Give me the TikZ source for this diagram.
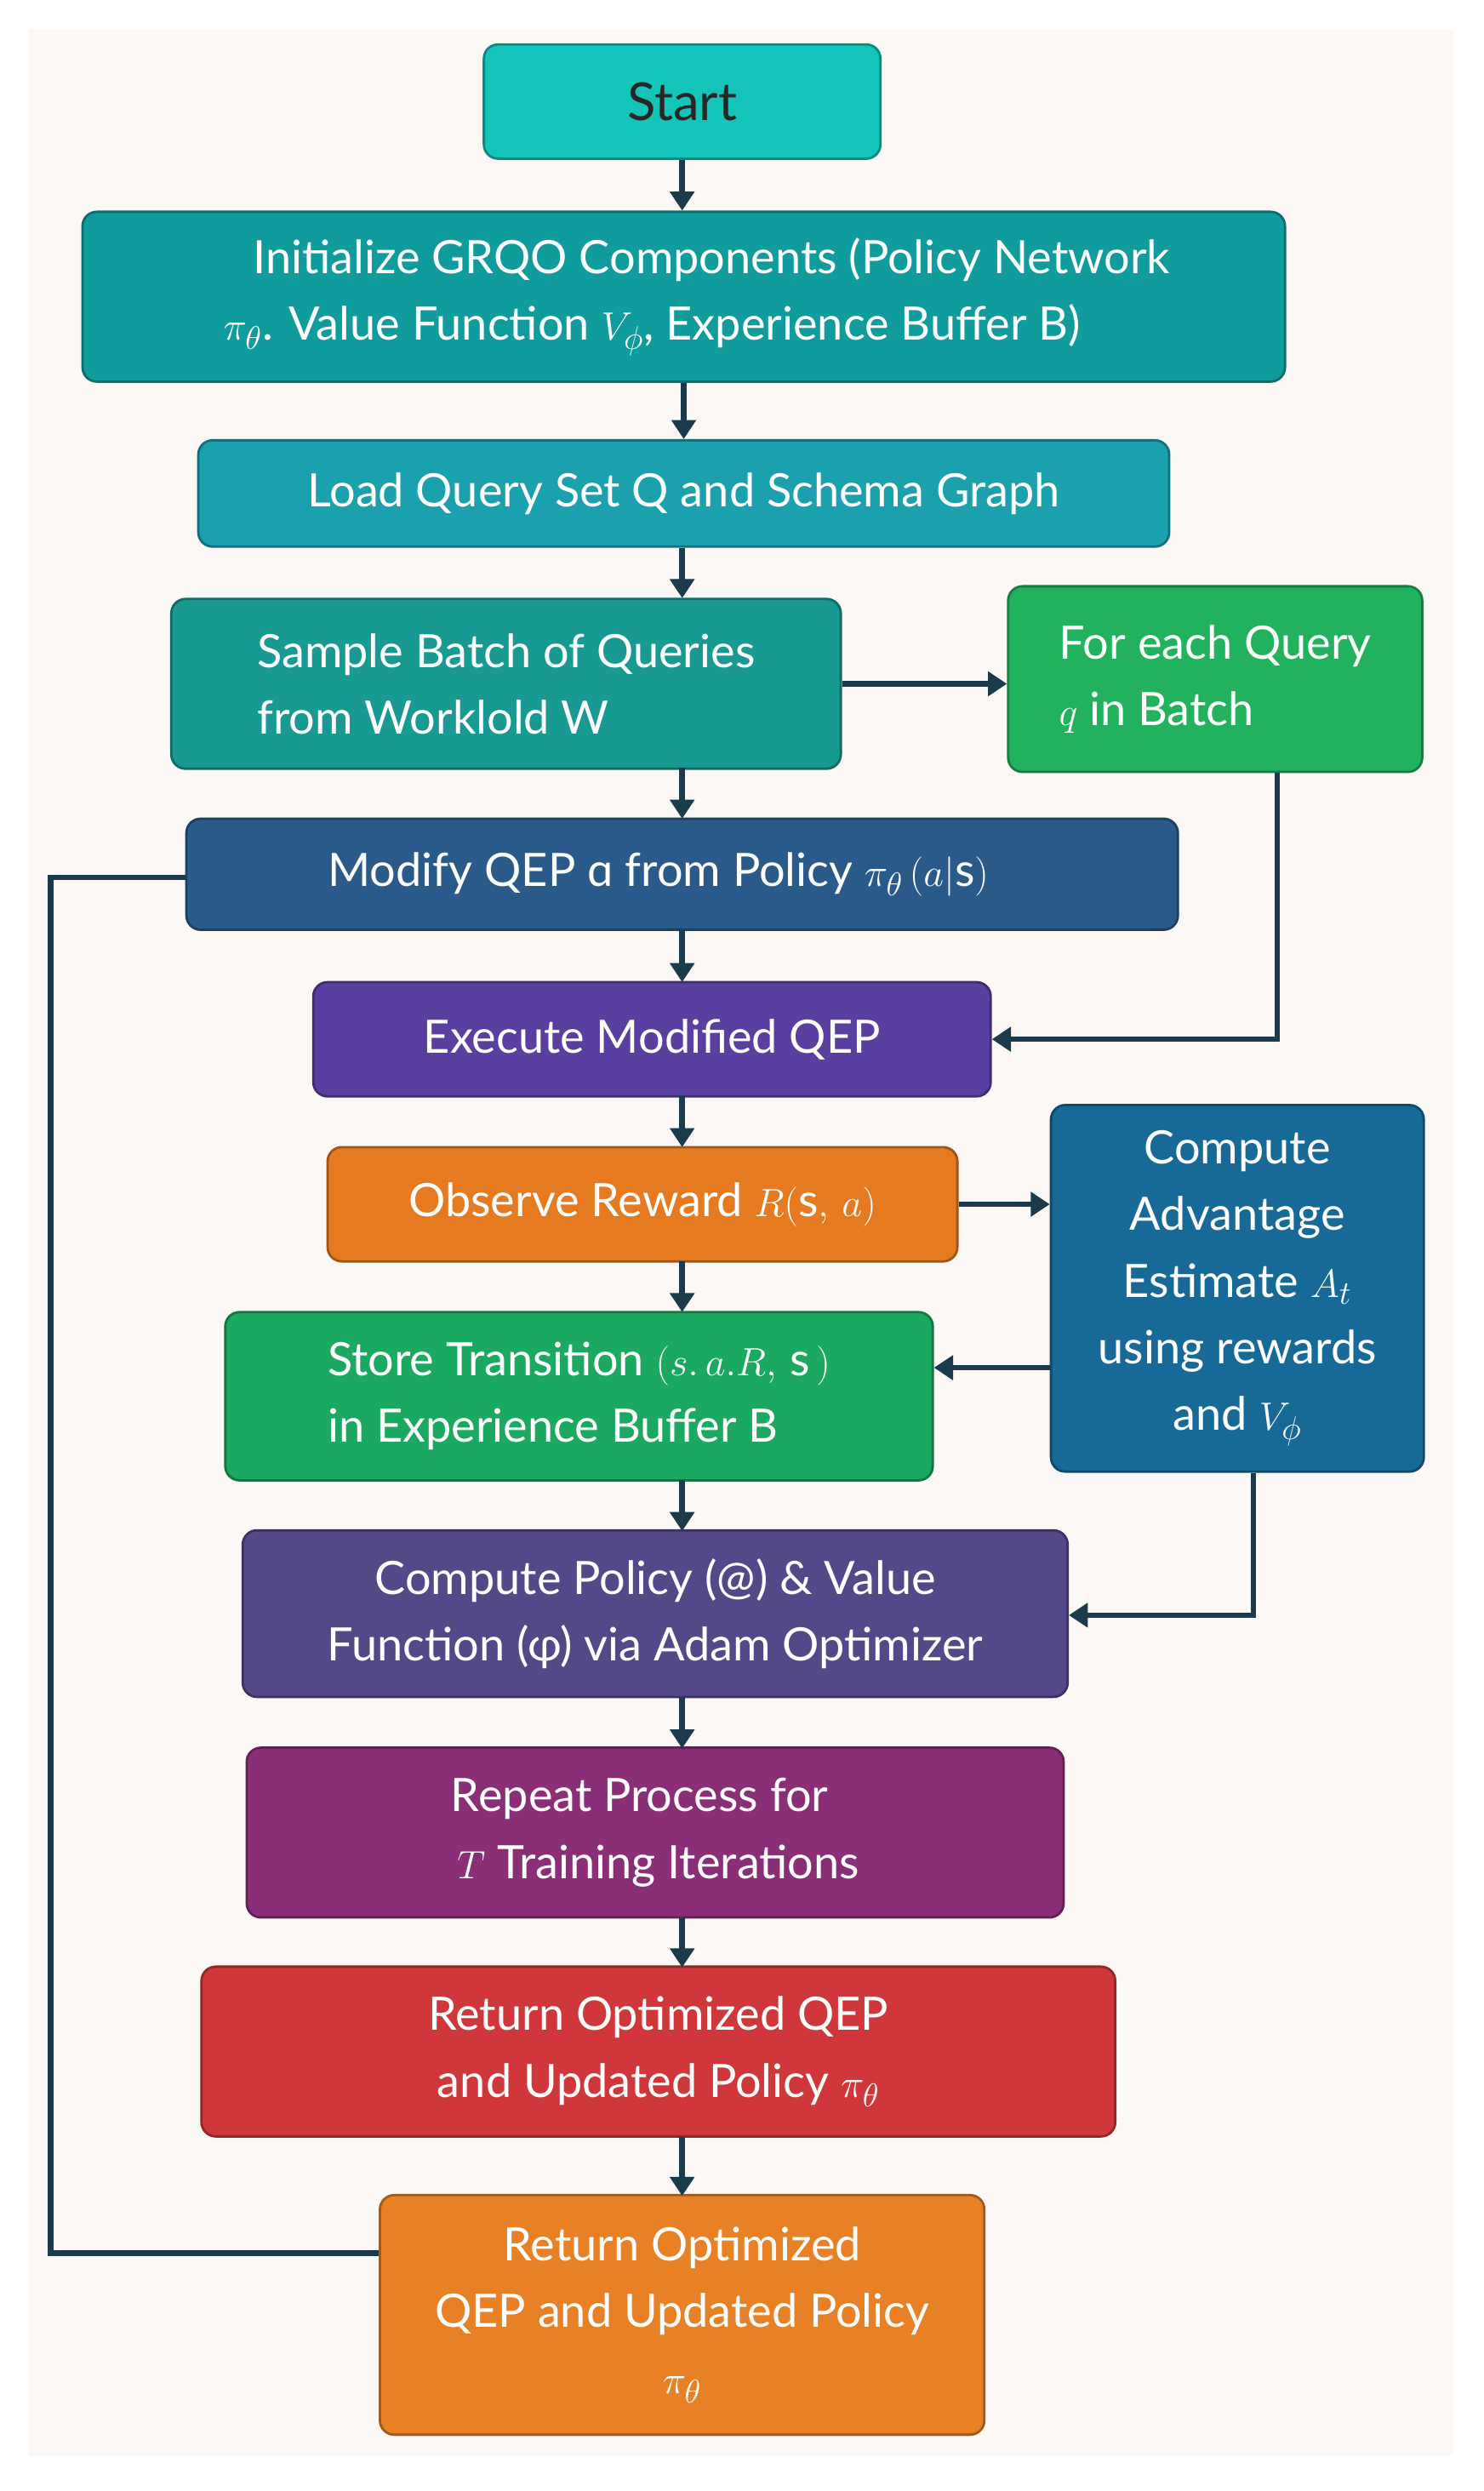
\documentclass[tikz,border=0pt]{standalone}
\usepackage{fontspec}
\setmainfont{Lato}
\usepackage{amsmath}
\usetikzlibrary{arrows.meta}
\definecolor{cStart}{HTML}{14C4B8}
\definecolor{cInit}{HTML}{109C9C}
\definecolor{cLoad}{HTML}{1BA0AE}
\definecolor{cSample}{HTML}{189A92}
\definecolor{cEach}{HTML}{22B25E}
\definecolor{cModify}{HTML}{2A5A8A}
\definecolor{cExec}{HTML}{5B3FA0}
\definecolor{cObs}{HTML}{E57A20}
\definecolor{cAdv}{HTML}{176A98}
\definecolor{cStore}{HTML}{1BA860}
\definecolor{cPol}{HTML}{544888}
\definecolor{cRep}{HTML}{8A2E78}
\definecolor{cRetA}{HTML}{D0373A}
\definecolor{cRetB}{HTML}{E88025}
\definecolor{cArrow}{HTML}{1B3A4B}
\definecolor{cBack}{HTML}{FBF8F5}
\tikzset{
  blk/.style={rounded corners=9pt, draw=#1!70!black, line width=1.5pt, fill=#1,
    text=white, align=center, inner sep=4pt, font=\fontsize{29}{42}\selectfont},
  flow/.style={draw=cArrow, line width=3.5pt, -{Triangle[length=12pt,width=15pt]}},
  flowline/.style={draw=cArrow, line width=3.5pt}
}
\begin{document}
\begin{tikzpicture}[x=1pt,y=1pt,yscale=-1,xscale=1]
\useasboundingbox (0,0) rectangle (935,1570);
%Shape: background
\fill[cBack] (18,18) rectangle (916,1548);

% Nodes
\node[blk=cStart, text=black!85, minimum width=250pt, minimum height=72pt, font=\fontsize{33}{40}\selectfont] (start) at (430,64) {Start};
\node[blk=cInit, minimum width=758pt, minimum height=107pt] (init) at (431,187) {\hspace*{35pt}Initialize GRQO Components (Policy Network\\ $\pi_\theta$. Value Function $V_{\phi}$, Experience Buffer B)\hspace*{40pt}};
\node[blk=cLoad, minimum width=612pt, minimum height=67pt] (load) at (431,311) {Load Query Set Q and Schema Graph};
\node[blk=cSample, minimum width=422pt, minimum height=107pt, align=left] (sample) at (319,431) {Sample Batch of Queries\\from Worklold W\hspace*{70pt}};
\node[blk=cEach, minimum width=261pt, minimum height=117pt, align=left] (each) at (766,428) {For each Query\\$q$ in Batch};
\node[blk=cModify, minimum width=625pt, minimum height=70pt] (modify) at (430,551) {Modify QEP ɑ from Policy $\pi_\theta\,(a|\mathrm{s})$\hspace*{30pt}};
\node[blk=cExec, minimum width=427pt, minimum height=72pt] (exec) at (411,655) {Execute Modified QEP};
\node[blk=cObs, minimum width=397pt, minimum height=72pt] (obs) at (405,759) {Observe Reward $R(\mathrm{s},\,a)$};
\node[blk=cAdv, minimum width=235pt, minimum height=231pt] (adv) at (780,812) {Compute\\Advantage\\Estimate $A_t$\\using rewards\\and $V_{\phi}$};
\node[blk=cStore, minimum width=446pt, minimum height=106pt, align=left] (store) at (365,880) {Store Transition $(s.\,a.R,\,\mathrm{s}\,)$\\in Experience Buffer B};
\node[blk=cPol, minimum width=520pt, minimum height=105pt] (pol) at (413,1017) {Compute Policy (@) \& Value\\Function (φ) via Adam Optimizer};
\node[blk=cRep, minimum width=515pt, minimum height=107pt, align=left] (rep) at (413,1155) {Repeat Process for\\\hspace*{4pt}$T$ Training Iterations};
\node[blk=cRetA, minimum width=576pt, minimum height=107pt] (retA) at (415,1293) {Return Optimized QEP\\and Updated Policy $\pi_\theta$};
\node[blk=cRetB, minimum width=381pt, minimum height=151pt] (retB) at (430,1459) {Return Optimized\\QEP and Updated Policy\\$\pi_\theta$};

% Helper coordinates
\coordinate (eachc) at (805,655);
\coordinate (advc) at (790,1018);
\coordinate (loopA) at (32,553);
\coordinate (loopB) at (32,1420);

% Connectors
\draw[flow] (start) -- (start |- init.north);
\draw[flow] (init.south -| load) -- (load);
\draw[flow] (load.south -| 430,0) -- (430,377);
\draw[flow] (430,484) -- (430,516);
\draw[flow] (sample.east |- 0,431) -- (each.west |- 0,431);
\draw[flow] (each.south -| eachc) -- (eachc) -- (exec.east);
\draw[flow] (430,586) -- (430,619);
\draw[flow] (430,691) -- (430,723);
\draw[flow] (obs.east) -- (adv.west |- obs.east);
\draw[flow] (430,795) -- (430,827);
\draw[flow] (adv.west |- 0,862) -- (store.east |- 0,862);
\draw[flow] (adv.south -| advc) -- (advc) -- (pol.east |- advc);
\draw[flow] (430,933) -- (430,965);
\draw[flow] (430,1070) -- (430,1102);
\draw[flow] (430,1209) -- (430,1240);
\draw[flow] (430,1347) -- (430,1384);
\draw[flowline] (modify.west |- loopA) -- (loopA) -- (loopB) -- (retB.west |- loopB);
\end{tikzpicture}
\end{document}
